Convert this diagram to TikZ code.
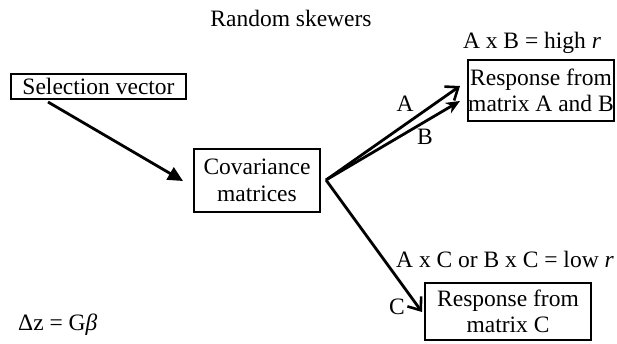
\documentclass[tikz,border=0pt]{standalone}
\usepackage{fontspec}
\setmainfont{Liberation Serif}
\usetikzlibrary{arrows.meta}
\begin{document}
\begin{tikzpicture}[x=1pt,y=-1pt,
  every node/.style={font=\fontsize{23.5}{26.5}\selectfont, inner sep=0pt},
  box/.style={draw, line width=1.4pt, align=center},
  conn/.style={line width=2.8pt},
  lbl/.style={anchor=base}]
\useasboundingbox (0,0) rectangle (617,343);
\node[lbl] (title) at (291,26) {Random skewers};
\node[box, minimum width=175pt, minimum height=25pt] (sel) at (98.5,86.5) {Selection vector};
\node[box, minimum width=126pt, minimum height=63pt] (cov) at (257,180.5) {Covariance\\matrices};
\node[box, minimum width=146pt, minimum height=61pt] (rab) at (541,90.5) {Response from\\matrix A and B};
\node[box, minimum width=166pt, minimum height=57pt] (rc) at (508,311.5) {Response from\\matrix C};
\node[lbl] (high) at (532,48) {A x B = high \textit{r}};
\node[lbl] (low) at (505,267) {A x C or B x C = low \textit{r}};
\node[anchor=base west] (eq) at (18,330) {Δz = G{\itshape β}};
\node (la) at (405,104) {A};
\node (lb) at (425,137) {B};
\node (lc) at (397,307) {C};
\coordinate (s0) at (48,102);
\coordinate (s1) at (183,181);
\coordinate (v) at (326,180);
\coordinate (ta) at (460,86);
\coordinate (tb) at (460,101);
\coordinate (tc) at (422,312);
\draw[conn, -{Triangle[length=15pt,width=14pt]}] (s0) -- (s1);
\draw[conn, -{Straight Barb[length=11pt,width=17pt,line width=2.6pt]}] (v) -- (ta);
\draw[conn, -{Stealth[length=14pt,width=12pt]}] (v) -- (tb);
\draw[conn, -{Straight Barb[length=11pt,width=17pt,line width=2.6pt]}] (v) -- (tc);
\end{tikzpicture}
\end{document}
